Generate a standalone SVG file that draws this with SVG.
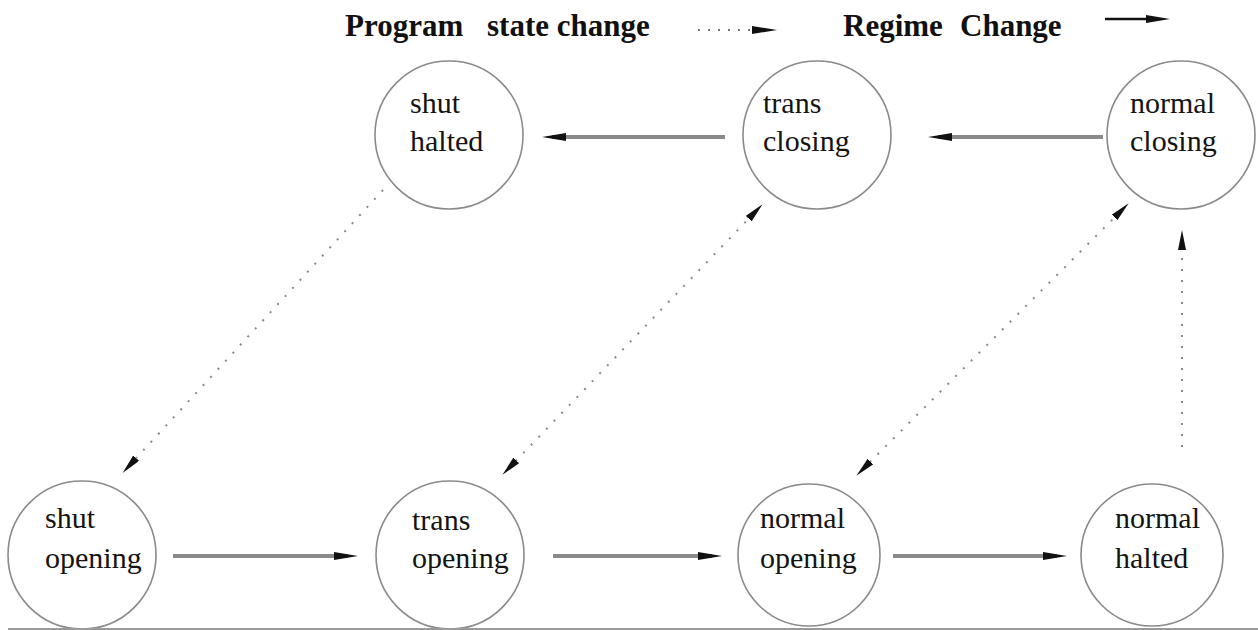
<svg xmlns="http://www.w3.org/2000/svg" width="1258" height="630" viewBox="0 0 1258 630">
<style>
.node circle{fill:none;stroke:#8a8a8a;stroke-width:1.6}
.node text{font-family:'Liberation Serif','Times New Roman','DejaVu Serif',serif;font-size:30px;fill:#141414}
.legend text{font-family:'Liberation Serif','Times New Roman','DejaVu Serif',serif;font-size:31px;font-weight:bold;fill:#111}
.regime{fill:none;stroke:#8a8a8a;stroke-width:4}
.prog{fill:none;stroke:#8a8a8a;stroke-width:2;stroke-dasharray:2 9}
</style>
<defs>
<marker id="headSolid" markerUnits="userSpaceOnUse" markerWidth="26" markerHeight="10" refX="14" refY="4" orient="auto">
<path d="M0,0 L24,4 L0,8 z" fill="#111"/>
</marker>
<marker id="headDot" markerUnits="userSpaceOnUse" markerWidth="22" markerHeight="10" refX="12" refY="4" orient="auto-start-reverse">
<path d="M0,0 L20,4 L0,8 z" fill="#111"/>
</marker>
</defs>
<rect width="1258" height="630" fill="#fff"/>
<g id="legend" class="legend">
<text x="345" y="36">Program</text>
<text x="487" y="36">state change</text>
<line x1="698" y1="30" x2="752" y2="30" stroke="#777" stroke-width="2" stroke-dasharray="2 8"/>
<path d="M752,26 L777,30 L752,34 z" fill="#111"/>
<text x="843" y="36">Regime</text>
<text x="960" y="36">Change</text>
<line x1="1105" y1="19" x2="1148" y2="19" stroke="#111" stroke-width="2.5"/>
<path d="M1146,15 L1170,19 L1146,23 z" fill="#111"/>
</g>
<g id="connectors">
<path class="regime" d="M725,137 L552,137" marker-end="url(#headSolid)"/>
<path class="regime" d="M1103,137 L938,137" marker-end="url(#headSolid)"/>
<path class="regime" d="M173,556 L348,556" marker-end="url(#headSolid)"/>
<path class="regime" d="M553,556 L712,556" marker-end="url(#headSolid)"/>
<path class="regime" d="M893,556 L1057,556" marker-end="url(#headSolid)"/>
<path class="prog" d="M383,190 L128,467" marker-end="url(#headDot)"/>
<path class="prog" d="M508,469 L757,210" marker-start="url(#headDot)" marker-end="url(#headDot)"/>
<path class="prog" d="M862,470 L1123,209" marker-start="url(#headDot)" marker-end="url(#headDot)"/>
<path class="prog" d="M1182,447 L1182,238" marker-end="url(#headDot)"/>
</g>
<g id="shut-halted" class="node"><circle cx="449" cy="135" r="74"/><text x="410" y="113">shut</text><text x="410" y="151">halted</text></g>
<g id="trans-closing" class="node"><circle cx="817" cy="135" r="74"/><text x="763" y="113">trans</text><text x="763" y="151">closing</text></g>
<g id="normal-closing" class="node"><circle cx="1181" cy="135" r="74"/><text x="1130" y="113">normal</text><text x="1130" y="151">closing</text></g>
<g id="shut-opening" class="node"><circle cx="82" cy="555" r="74"/><text x="45" y="528">shut</text><text x="45" y="568">opening</text></g>
<g id="trans-opening" class="node"><circle cx="450" cy="555" r="74"/><text x="412" y="530">trans</text><text x="412" y="568">opening</text></g>
<g id="normal-opening" class="node"><circle cx="809" cy="555" r="71"/><text x="760" y="528">normal</text><text x="760" y="568">opening</text></g>
<g id="normal-halted" class="node"><circle cx="1152" cy="555" r="71"/><text x="1115" y="528">normal</text><text x="1115" y="568">halted</text></g>
<line x1="8" y1="629" x2="1258" y2="629" stroke="#9a9a9a" stroke-width="2"/>
</svg>
